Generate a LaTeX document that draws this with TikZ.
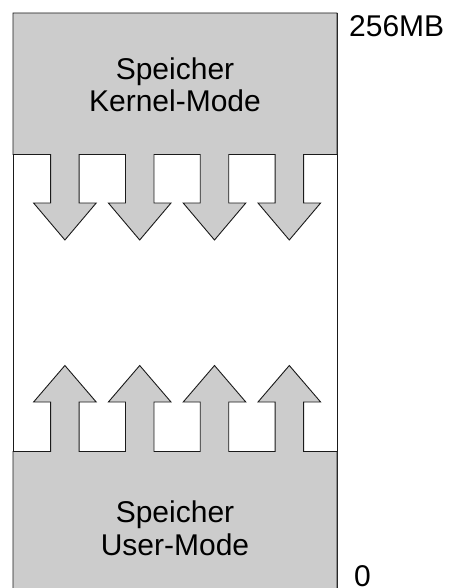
\documentclass[tikz,border=0pt]{standalone}
\usepackage{fontspec}
\setmainfont{Liberation Sans}
\definecolor{memgray}{HTML}{CCCCCC}
\definecolor{edgecol}{HTML}{1A1A1A}
\tikzset{
  memblock/.style={fill=memgray, draw=edgecol, line width=0.9pt, line join=miter},
  frame/.style={draw=edgecol, line width=0.9pt},
  bigtext/.style={font=\fontsize{30}{32.4}\selectfont, inner sep=0pt, align=center},
  marktext/.style={font=\fontsize{30}{32.4}\selectfont, inner sep=0pt, anchor=base west}
}
\begin{document}
\begin{tikzpicture}[x=1pt,y=-1pt]
\clip (0,0) rectangle (449,588);
\useasboundingbox (0,0) rectangle (449,588);
% outer frame
\draw[frame] (13,13) rectangle (337,595);
% kernel-mode block with downward arrows
\draw[memblock] (13,13) -- (337,13) -- (337,154.5)
  foreach \c in {289.3,214.5,139.7,64.9} {
    -- (\c+14.25,154.5) -- (\c+14.25,203) -- (\c+31.3,203) -- (\c,240)
    -- (\c-31.3,203) -- (\c-14.25,203) -- (\c-14.25,154.5)
  } -- (13,154.5) -- cycle;
% user-mode block with upward arrows
\draw[memblock] (13,595) -- (13,451.5)
  foreach \c in {64.9,139.7,214.5,289.3} {
    -- (\c-14.25,451.5) -- (\c-14.25,402) -- (\c-31.3,402) -- (\c,365.5)
    -- (\c+31.3,402) -- (\c+14.25,402) -- (\c+14.25,451.5)
  } -- (337,451.5) -- (337,595) -- cycle;
% labels
\node[bigtext, anchor=base] (kernel) at (175,111.7) {Speicher\\Kernel-Mode};
\node[bigtext, anchor=base] (user) at (175,555) {Speicher\\User-Mode};
\node[marktext] (top) at (349,37) {256MB};
\node[marktext] (bottom) at (354,586.3) {0};
\end{tikzpicture}
\end{document}
